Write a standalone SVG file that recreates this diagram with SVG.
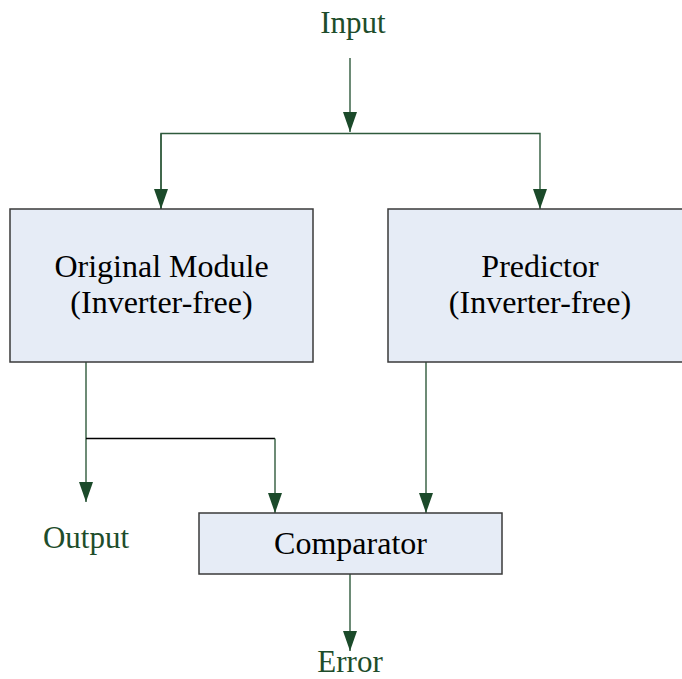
<svg xmlns="http://www.w3.org/2000/svg" width="682" height="679" viewBox="0 0 682 679">
  <style>
    .box { fill: #e6ecf6; stroke: #3a3a3a; stroke-width: 1.5; }
    .node-text { font-family: "Liberation Serif", "Times New Roman", serif; font-size: 32px; fill: #000; text-anchor: middle; }
    .label { font-family: "Liberation Serif", "Times New Roman", serif; font-size: 31px; fill: #1e4d2b; text-anchor: middle; }
    .wire { fill: none; stroke: #2f5a3c; stroke-width: 1.4; }
    .wire-dark { fill: none; stroke: #000; stroke-width: 1.4; }
  </style>
  <defs>
    <marker id="head" viewBox="0 0 20 14" refX="20" refY="7" markerWidth="20" markerHeight="14" markerUnits="userSpaceOnUse" orient="auto">
      <path d="M0,0 L20,7 L0,14 Z" fill="#1b4a2a"/>
    </marker>
  </defs>

  <!-- connectors -->
  <g id="connectors">
    <line class="wire" x1="350" y1="58" x2="350" y2="132" marker-end="url(#head)"/>
    <polyline class="wire" points="161,209 161,133.5 540,133.5 540,209" marker-end="url(#head)"/>
    <line class="wire" x1="161" y1="133.5" x2="161" y2="209" marker-end="url(#head)"/>
    <line class="wire" x1="86" y1="362" x2="86" y2="502" marker-end="url(#head)"/>
    <polyline class="wire-dark" points="86,438.5 275,438.5"/>
    <line class="wire" x1="275" y1="438.5" x2="275" y2="513" marker-end="url(#head)"/>
    <line class="wire" x1="426" y1="362" x2="426" y2="513" marker-end="url(#head)"/>
    <line class="wire" x1="350" y1="568" x2="350" y2="651" marker-end="url(#head)"/>
  </g>

  <!-- nodes -->
  <g id="input">
    <text class="label" x="353" y="33">Input</text>
  </g>

  <g id="original-module">
    <rect class="box" x="10" y="209" width="303" height="153"/>
    <text class="node-text" x="161.5" y="277">Original Module</text>
    <text class="node-text" x="161.5" y="313">(Inverter-free)</text>
  </g>

  <g id="predictor">
    <rect class="box" x="388" y="209" width="303" height="153"/>
    <text class="node-text" x="540" y="277">Predictor</text>
    <text class="node-text" x="540" y="313">(Inverter-free)</text>
  </g>

  <g id="output">
    <text class="label" x="86" y="548">Output</text>
  </g>

  <g id="comparator">
    <rect class="box" x="199" y="513" width="303" height="61"/>
    <text class="node-text" x="350.5" y="554">Comparator</text>
  </g>

  <g id="error">
    <text class="label" x="350" y="672">Error</text>
  </g>
</svg>
